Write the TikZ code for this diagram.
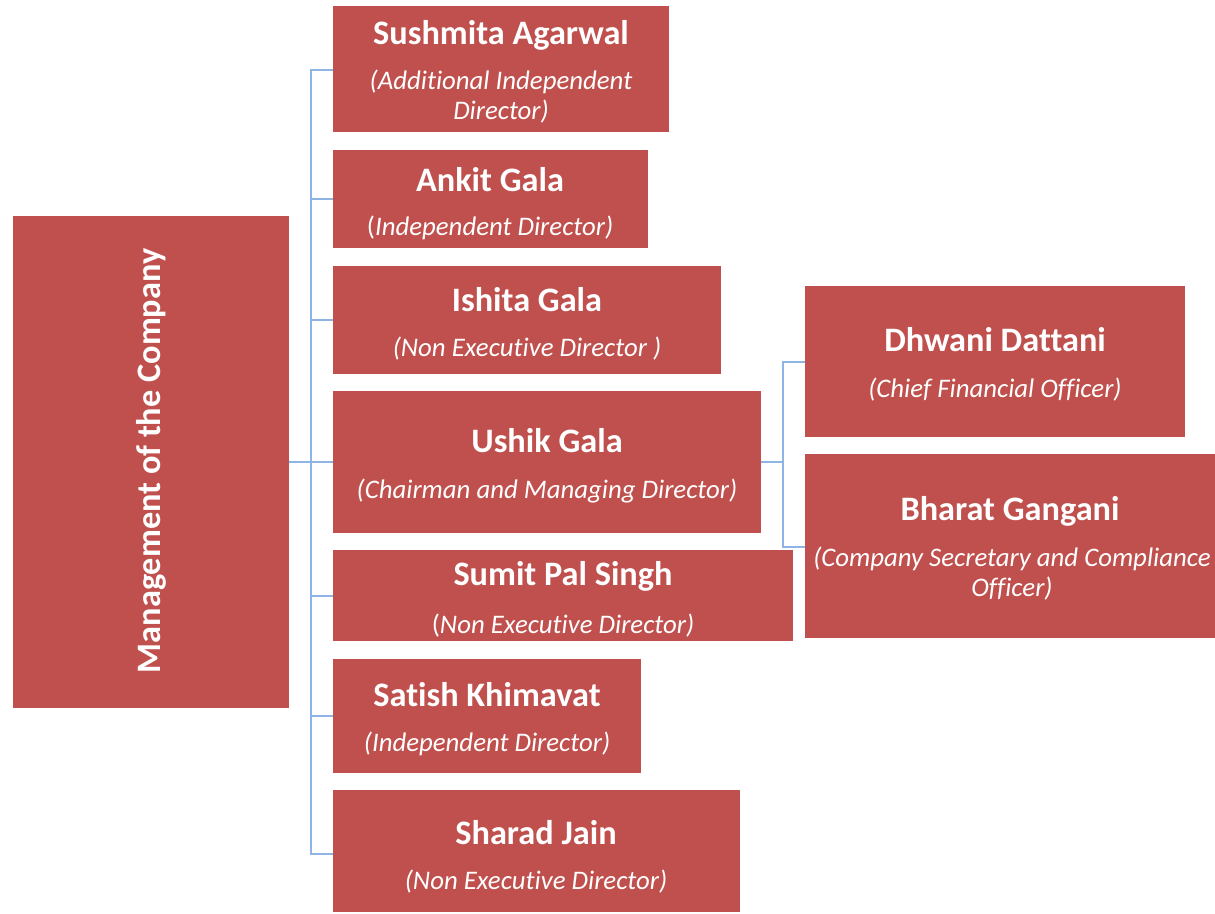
\documentclass[tikz,border=0pt]{standalone}
\usepackage{fontspec}
\setmainfont[Ligatures=NoCommon]{Carlito}
\definecolor{boxred}{HTML}{C0504D}
\definecolor{linkblue}{HTML}{8EB4E3}
\tikzset{
  x=1pt, y=-1pt,
  rbox/.style={fill=boxred, draw=none},
  nm/.style={text=white, font=\fontsize{34.3}{38}\selectfont\bfseries, inner sep=0pt, anchor=center},
  sb/.style={text=white, font=\fontsize{26.8}{30}\selectfont\itshape, inner sep=0pt, anchor=center, align=center},
  link/.style={draw=linkblue, line width=1.2pt}
}
\begin{document}
\begin{tikzpicture}
\useasboundingbox (0,0) rectangle (1215,913);
% boxes
\path[rbox] (13,216) rectangle (289,708) coordinate (mgmtbr);
\coordinate (mgmt) at (289,462);
\node[nm, rotate=90] (mgmtt) at (151,461) {Management of the Company};

\path[rbox] (333,6) rectangle (669,132);
\coordinate (b1) at (333,70);
\node[nm] (n1) at (501,35) {Sushmita Agarwal};
\node[sb] (s1) at (501,97) {(Additional Independent\\Director)};

\path[rbox] (333,150) rectangle (648,248);
\coordinate (b2) at (333,199);
\node[nm] (n2) at (490,180) {Ankit Gala};
\node[sb] (s2) at (490,228) {\upshape(\itshape Independent Director)};

\path[rbox] (333,266) rectangle (721,374);
\coordinate (b3) at (333,320);
\node[nm] (n3) at (527,300) {Ishita Gala};
\node[sb] (s3) at (527,349) {(Non Executive Director )};

\path[rbox] (333,391) rectangle (761,533);
\coordinate (b4) at (333,462);
\coordinate (b4r) at (761,462);
\node[nm] (n4) at (547,441) {Ushik Gala};
\node[sb] (s4) at (547,491) {(Chairman and Managing Director)};

\path[rbox] (333,550) rectangle (793,641);
\coordinate (b5) at (333,596);
\node[nm] (n5) at (563,576) {Sumit Pal Singh};
\node[sb] (s5) at (563,626) {\upshape(\itshape Non Executive Director)};

\path[rbox] (333,659) rectangle (641,773);
\coordinate (b6) at (333,716);
\node[nm] (n6) at (487,695) {Satish Khimavat};
\node[sb] (s6) at (487,744) {(Independent Director)};

\path[rbox] (333,790) rectangle (740,912);
\coordinate (b7) at (333,854);
\node[nm] (n7) at (536,833) {Sharad Jain};
\node[sb] (s7) at (536,882) {(Non Executive Director)};

\path[rbox] (805,286) rectangle (1185,437);
\coordinate (c1) at (805,362);
\node[nm] (n8) at (995,340) {Dhwani Dattani};
\node[sb] (s8) at (995,390) {(Chief Financial Officer)};

\path[rbox] (805,454) rectangle (1215,638);
\coordinate (c2) at (805,547);
\node[nm] (n9) at (1010,511) {Bharat Gangani};
\node[sb] (s9) at (1012,574) {(Company Secretary and Compliance\\Officer)};

% connectors
\coordinate (spine) at (311,0);
\draw[link] (mgmt) -- (spine |- mgmt);
\draw[link] (b1) -| (spine |- b7) -- (b7);
\foreach \b in {b2,b3,b4,b5,b6}{
  \draw[link] (spine |- \b) -- (\b);
}
\coordinate (spine2) at (783,0);
\draw[link] (b4r) -- (spine2 |- b4r);
\draw[link] (c1) -| (spine2 |- c2) -- (c2);
\end{tikzpicture}
\end{document}
